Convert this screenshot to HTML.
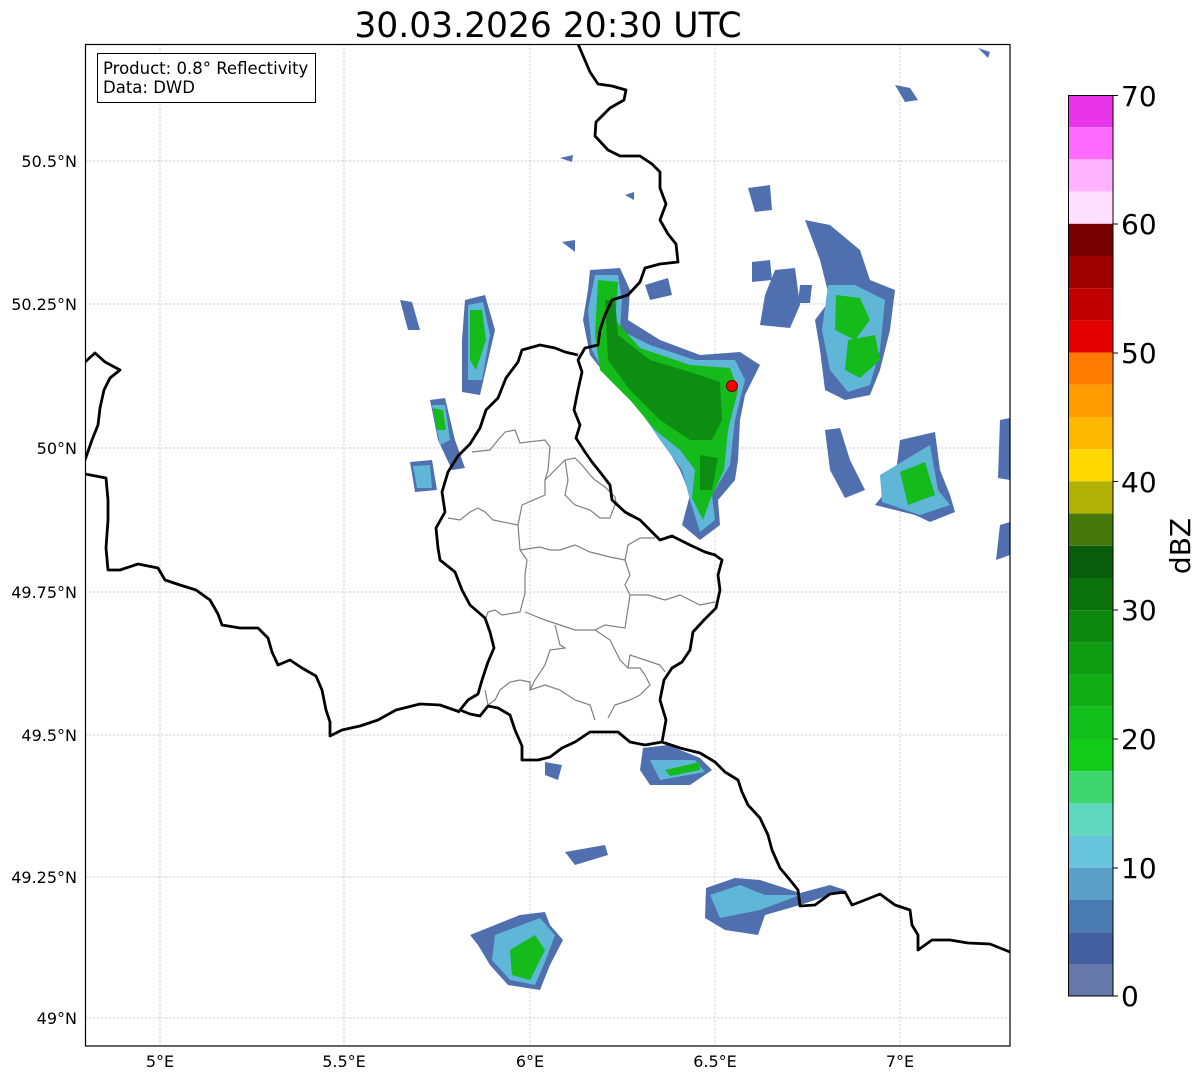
<!DOCTYPE html>
<html><head><meta charset="utf-8"><style>
html,body{margin:0;padding:0;background:#fff;}
svg{display:block;font-family:"DejaVu Sans","Liberation Sans",sans-serif;}
</style></head><body>
<svg width="1202" height="1081" viewBox="0 0 1202 1081" xmlns="http://www.w3.org/2000/svg">
<rect width="1202" height="1081" fill="#fff"/>
<text x="548" y="37" font-size="34.5" text-anchor="middle" fill="#000">30.03.2026 20:30 UTC</text>
<defs><clipPath id="c"><rect x="85" y="44" width="925" height="1002"/></clipPath></defs>
<g stroke="#c4c4c4" stroke-width="0.7" stroke-dasharray="2.5,1.5">
<line x1="160" y1="44" x2="160" y2="1046"/><line x1="344" y1="44" x2="344" y2="1046"/><line x1="530" y1="44" x2="530" y2="1046"/><line x1="715" y1="44" x2="715" y2="1046"/><line x1="900" y1="44" x2="900" y2="1046"/>
<line x1="85" y1="161" x2="1010" y2="161"/><line x1="85" y1="304" x2="1010" y2="304"/><line x1="85" y1="448" x2="1010" y2="448"/><line x1="85" y1="592" x2="1010" y2="592"/><line x1="85" y1="735" x2="1010" y2="735"/><line x1="85" y1="877" x2="1010" y2="877"/><line x1="85" y1="1018" x2="1010" y2="1018"/>
</g>
<g clip-path="url(#c)">
<g fill="#4f6fae">
<polygon points="590,270 620,268 630,290 628,320 660,340 700,355 740,352 760,365 745,395 740,420 738,460 735,480 718,500 720,525 700,540 682,525 690,495 680,470 662,440 640,410 610,380 590,355 583,320 588,290"/>
<polygon points="645,285 668,278 672,295 650,300"/>
<polygon points="465,300 485,295 495,330 488,360 480,395 462,392 462,340"/>
<polygon points="400,300 412,302 420,330 408,330"/>
<polygon points="430,400 445,398 455,440 465,468 452,470 438,440"/>
<polygon points="410,462 432,460 437,490 415,492"/>
<polygon points="805,220 830,225 860,250 870,280 895,290 890,330 880,370 870,395 845,400 825,390 820,350 815,320 830,300 820,260"/>
<polygon points="752,262 770,260 772,280 752,282"/>
<polygon points="775,270 795,268 800,305 790,328 760,325 765,295"/>
<polygon points="800,285 812,285 810,303 798,303"/>
<polygon points="825,430 840,428 850,460 865,490 845,498 830,470"/>
<polygon points="900,440 935,432 940,470 950,495 955,512 930,522 915,515 875,505 895,480"/>
<polygon points="1000,420 1010,418 1010,480 998,478"/>
<polygon points="1000,525 1010,522 1010,555 996,560"/>
<polygon points="643,748 668,745 700,758 712,770 690,785 650,785 640,770"/>
<polygon points="545,762 562,765 558,780 545,775"/>
<polygon points="565,852 605,845 608,855 575,865"/>
<polygon points="706,888 735,878 760,880 800,893 830,885 845,890 800,905 765,915 758,935 725,930 705,918"/>
<polygon points="470,935 520,915 545,912 550,925 563,940 550,965 540,990 508,985 490,965 478,945"/>
<polygon points="895,85 910,88 918,100 905,102"/>
<polygon points="748,188 770,185 772,210 755,212"/>
<polygon points="562,242 575,240 575,252"/>
<polygon points="560,158 573,155 572,162"/>
<polygon points="978,48 990,52 988,58"/>
<polygon points="625,195 634,192 634,200"/>
</g>
<g fill="#5fb6d6">
<polygon points="595,275 618,275 622,300 620,330 650,345 695,360 735,360 745,380 735,420 730,465 712,495 715,520 700,532 690,500 682,470 660,440 636,405 605,375 592,350 588,310"/>
<polygon points="468,305 483,302 490,335 482,380 468,380"/>
<polygon points="432,405 445,405 450,440 440,445"/>
<polygon points="413,466 430,465 432,488 417,488"/>
<polygon points="828,285 855,285 885,300 880,350 870,385 848,392 830,370 822,330"/>
<polygon points="880,475 930,445 938,490 950,505 920,515 882,502"/>
<polygon points="650,760 695,760 705,772 660,780"/>
<polygon points="710,895 740,885 765,895 800,895 760,910 720,918"/>
<polygon points="495,935 540,918 555,935 545,962 535,985 510,980 492,960"/>
</g>
<g fill="#14bb1a">
<polygon points="598,280 618,282 615,320 640,348 690,365 730,368 738,390 728,430 724,470 710,500 703,520 692,498 695,470 680,450 655,430 630,400 600,370 595,335"/>
<polygon points="470,310 482,310 486,340 476,370 470,360"/>
<polygon points="433,408 443,410 446,430 437,430"/>
<polygon points="836,295 860,298 870,320 855,340 835,330"/>
<polygon points="848,340 875,335 880,360 860,378 845,370"/>
<polygon points="900,472 925,462 935,495 908,505"/>
<polygon points="510,950 535,935 545,950 530,980 512,975"/>
<polygon points="665,770 700,762 700,770 670,776"/>
</g>
<g fill="#0d8e12">
<polygon points="605,300 615,300 618,335 650,360 690,372 720,382 722,420 712,440 690,440 660,420 630,390 608,360"/>
<polygon points="700,455 718,458 712,490 700,490"/>
</g>
<circle cx="732" cy="386" r="5.5" fill="#ff0000" stroke="#600" stroke-width="1"/>
<g fill="none" stroke="#808080" stroke-width="1.2">
<polyline points="472,452 490,450 498,440 505,432 515,430 520,443 545,440 550,447 548,470 545,480 545,495 522,505 518,525 520,550"/>
<polyline points="448,518 460,520 470,512 478,508 485,512 493,520 503,522 518,525"/>
<polyline points="545,480 560,465 565,460 575,458 582,465 590,475 595,480 605,487 615,497 616,502 628,515 640,520"/>
<polyline points="565,460 568,480 565,495 575,505 590,510 600,518 610,518 616,502"/>
<polyline points="520,550 540,547 550,550 560,550 575,545 590,552 610,557 625,560 628,545 640,538 655,538"/>
<polyline points="520,550 527,560 525,575 525,593 520,612 502,615 495,610 488,612 485,620"/>
<polyline points="625,560 630,575 625,585 630,595"/>
<polyline points="525,612 545,620 560,625 575,630 595,630 605,625 625,628 630,595 648,595 665,600 680,595 700,605 715,602"/>
<polyline points="555,625 560,645 565,648 550,650 545,665 535,680 530,690 545,685 560,690 575,700 590,705 595,720"/>
<polyline points="595,630 610,640 620,660 628,668 640,668 645,675 650,685 640,695 630,700 615,705 608,718"/>
<polyline points="530,690 530,682 520,680 510,682 500,690 495,700 488,705 485,690"/>
<polyline points="628,668 630,655 645,660 660,665 665,672"/>
</g>
<g fill="none" stroke="#000" stroke-width="2.8" stroke-linejoin="round">
<polyline points="578,44 584,58 590,72 598,84 612,86 626,90 624,100 610,108 596,122 595,136 608,150 620,156 640,156 652,164 660,172 660,188 666,204 660,220 668,234 676,244 678,262 660,264 645,268 640,282 628,295 612,300 605,315 600,330 598,345 585,348 578,360 582,372 578,390 574,410 580,425 576,438 585,452 592,462 600,472 610,485 612,500 625,512 640,520 650,530 660,540 672,536 690,545 705,552 715,555 722,560 718,575 720,590 716,608 704,620 693,632 690,650 682,662 672,668 664,680 660,700 666,720 662,742 680,748 700,753 715,762 725,772 738,780 742,792 748,805 760,818 768,835 772,850 780,868 790,880 798,890 800,906 815,905 830,894 845,892 852,905 865,900 880,894 895,905 910,910 912,925 918,935 918,950 932,940 950,940 968,943 990,944 1010,952"/>
<polyline points="578,355 565,352 555,348 540,345 522,350 518,362 506,378 498,398 486,410 480,428 470,444 458,456 448,472 442,492 445,512 436,528 438,548 440,560 455,572 462,590 470,605 485,618 490,632 494,648 488,662 482,680 478,694 468,700 460,710 470,714 480,716 488,706 498,708 510,715 515,730 522,746 522,760 538,760 550,757 562,748 575,742 590,732 605,732 618,732 630,742 645,745 662,742"/>
<polyline points="85,474 106,478 108,500 108,520 106,548 108,570 120,570 138,564 158,568 165,580 180,585 196,590 210,600 218,614 222,625 240,628 258,628 268,638 272,652 278,665 290,660 302,668 316,676 322,690 326,710 330,722 330,736 342,730 360,726 378,720 396,710 420,704 440,705 460,712"/>
<polyline points="85,362 95,353 105,362 120,370 110,378 104,390 100,408 98,425 92,440 85,460"/>
</g>
</g>
<rect x="85.5" y="44.5" width="924.5" height="1001.5" fill="none" stroke="#000" stroke-width="1.2"/>
<rect x="97.5" y="53.5" width="218" height="49" fill="#fff" stroke="#000" stroke-width="1"/>
<text x="103" y="74" font-size="16.5">Product: 0.8° Reflectivity</text>
<text x="103" y="93" font-size="16.5">Data: DWD</text>
<g font-size="16" text-anchor="end">
<text x="77" y="167">50.5°N</text><text x="77" y="310">50.25°N</text><text x="77" y="454">50°N</text><text x="77" y="598">49.75°N</text><text x="77" y="741">49.5°N</text><text x="77" y="883">49.25°N</text><text x="77" y="1024">49°N</text>
</g>
<g font-size="16" text-anchor="middle">
<text x="160" y="1067">5°E</text><text x="344" y="1067">5.5°E</text><text x="530" y="1067">6°E</text><text x="715" y="1067">6.5°E</text><text x="900" y="1067">7°E</text>
</g>
<g>
<rect x="1068" y="95" width="45" height="32.2" fill="#e935e9"/>
<rect x="1068" y="127.2" width="45" height="32.2" fill="#ff6aff"/>
<rect x="1068" y="159.4" width="45" height="32.2" fill="#ffb3ff"/>
<rect x="1068" y="191.6" width="45" height="32.2" fill="#ffdfff"/>
<rect x="1068" y="223.8" width="45" height="32.2" fill="#770000"/>
<rect x="1068" y="256" width="45" height="32.2" fill="#a00000"/>
<rect x="1068" y="288.2" width="45" height="32.2" fill="#c00000"/>
<rect x="1068" y="320.4" width="45" height="32.2" fill="#e20000"/>
<rect x="1068" y="352.6" width="45" height="32.2" fill="#ff7b00"/>
<rect x="1068" y="384.8" width="45" height="32.2" fill="#ff9c00"/>
<rect x="1068" y="417" width="45" height="32.2" fill="#ffb800"/>
<rect x="1068" y="449.2" width="45" height="32.2" fill="#ffd800"/>
<rect x="1068" y="481.4" width="45" height="32.2" fill="#b0b208"/>
<rect x="1068" y="513.6" width="45" height="32.2" fill="#47780c"/>
<rect x="1068" y="545.8" width="45" height="32.2" fill="#085c0c"/>
<rect x="1068" y="578" width="45" height="32.2" fill="#0b720e"/>
<rect x="1068" y="610.2" width="45" height="32.2" fill="#0c880f"/>
<rect x="1068" y="642.4" width="45" height="32.2" fill="#0e9c12"/>
<rect x="1068" y="674.6" width="45" height="32.2" fill="#10ad14"/>
<rect x="1068" y="706.8" width="45" height="32.2" fill="#12be1a"/>
<rect x="1068" y="739" width="45" height="32.2" fill="#12cb1a"/>
<rect x="1068" y="771.2" width="45" height="32.2" fill="#3ed66e"/>
<rect x="1068" y="803.4" width="45" height="32.2" fill="#60d8c0"/>
<rect x="1068" y="835.6" width="45" height="32.2" fill="#66c4dc"/>
<rect x="1068" y="867.8" width="45" height="32.2" fill="#5b9ec8"/>
<rect x="1068" y="900" width="45" height="32.2" fill="#4a7ab2"/>
<rect x="1068" y="932.2" width="45" height="32.2" fill="#4460a0"/>
<rect x="1068" y="964.4" width="45" height="31.6" fill="#6677aa"/>
<rect x="1068.5" y="95.5" width="44.5" height="900.5" fill="none" stroke="#000" stroke-width="1"/>
<g stroke="#000" stroke-width="1"><line x1="1113" y1="95.5" x2="1118" y2="95.5"/><line x1="1113" y1="224" x2="1118" y2="224"/><line x1="1113" y1="353" x2="1118" y2="353"/><line x1="1113" y1="481.5" x2="1118" y2="481.5"/><line x1="1113" y1="610" x2="1118" y2="610"/><line x1="1113" y1="739" x2="1118" y2="739"/><line x1="1113" y1="868" x2="1118" y2="868"/><line x1="1113" y1="996" x2="1118" y2="996"/></g>
<g font-size="28"><text x="1121" y="106">70</text><text x="1121" y="234">60</text><text x="1121" y="363">50</text><text x="1121" y="492">40</text><text x="1121" y="620">30</text><text x="1121" y="749">20</text><text x="1121" y="878">10</text><text x="1121" y="1006">0</text></g>
<text transform="translate(1190,546) rotate(-90)" font-size="28" text-anchor="middle">dBZ</text>
</g>
</svg>
</body></html>
